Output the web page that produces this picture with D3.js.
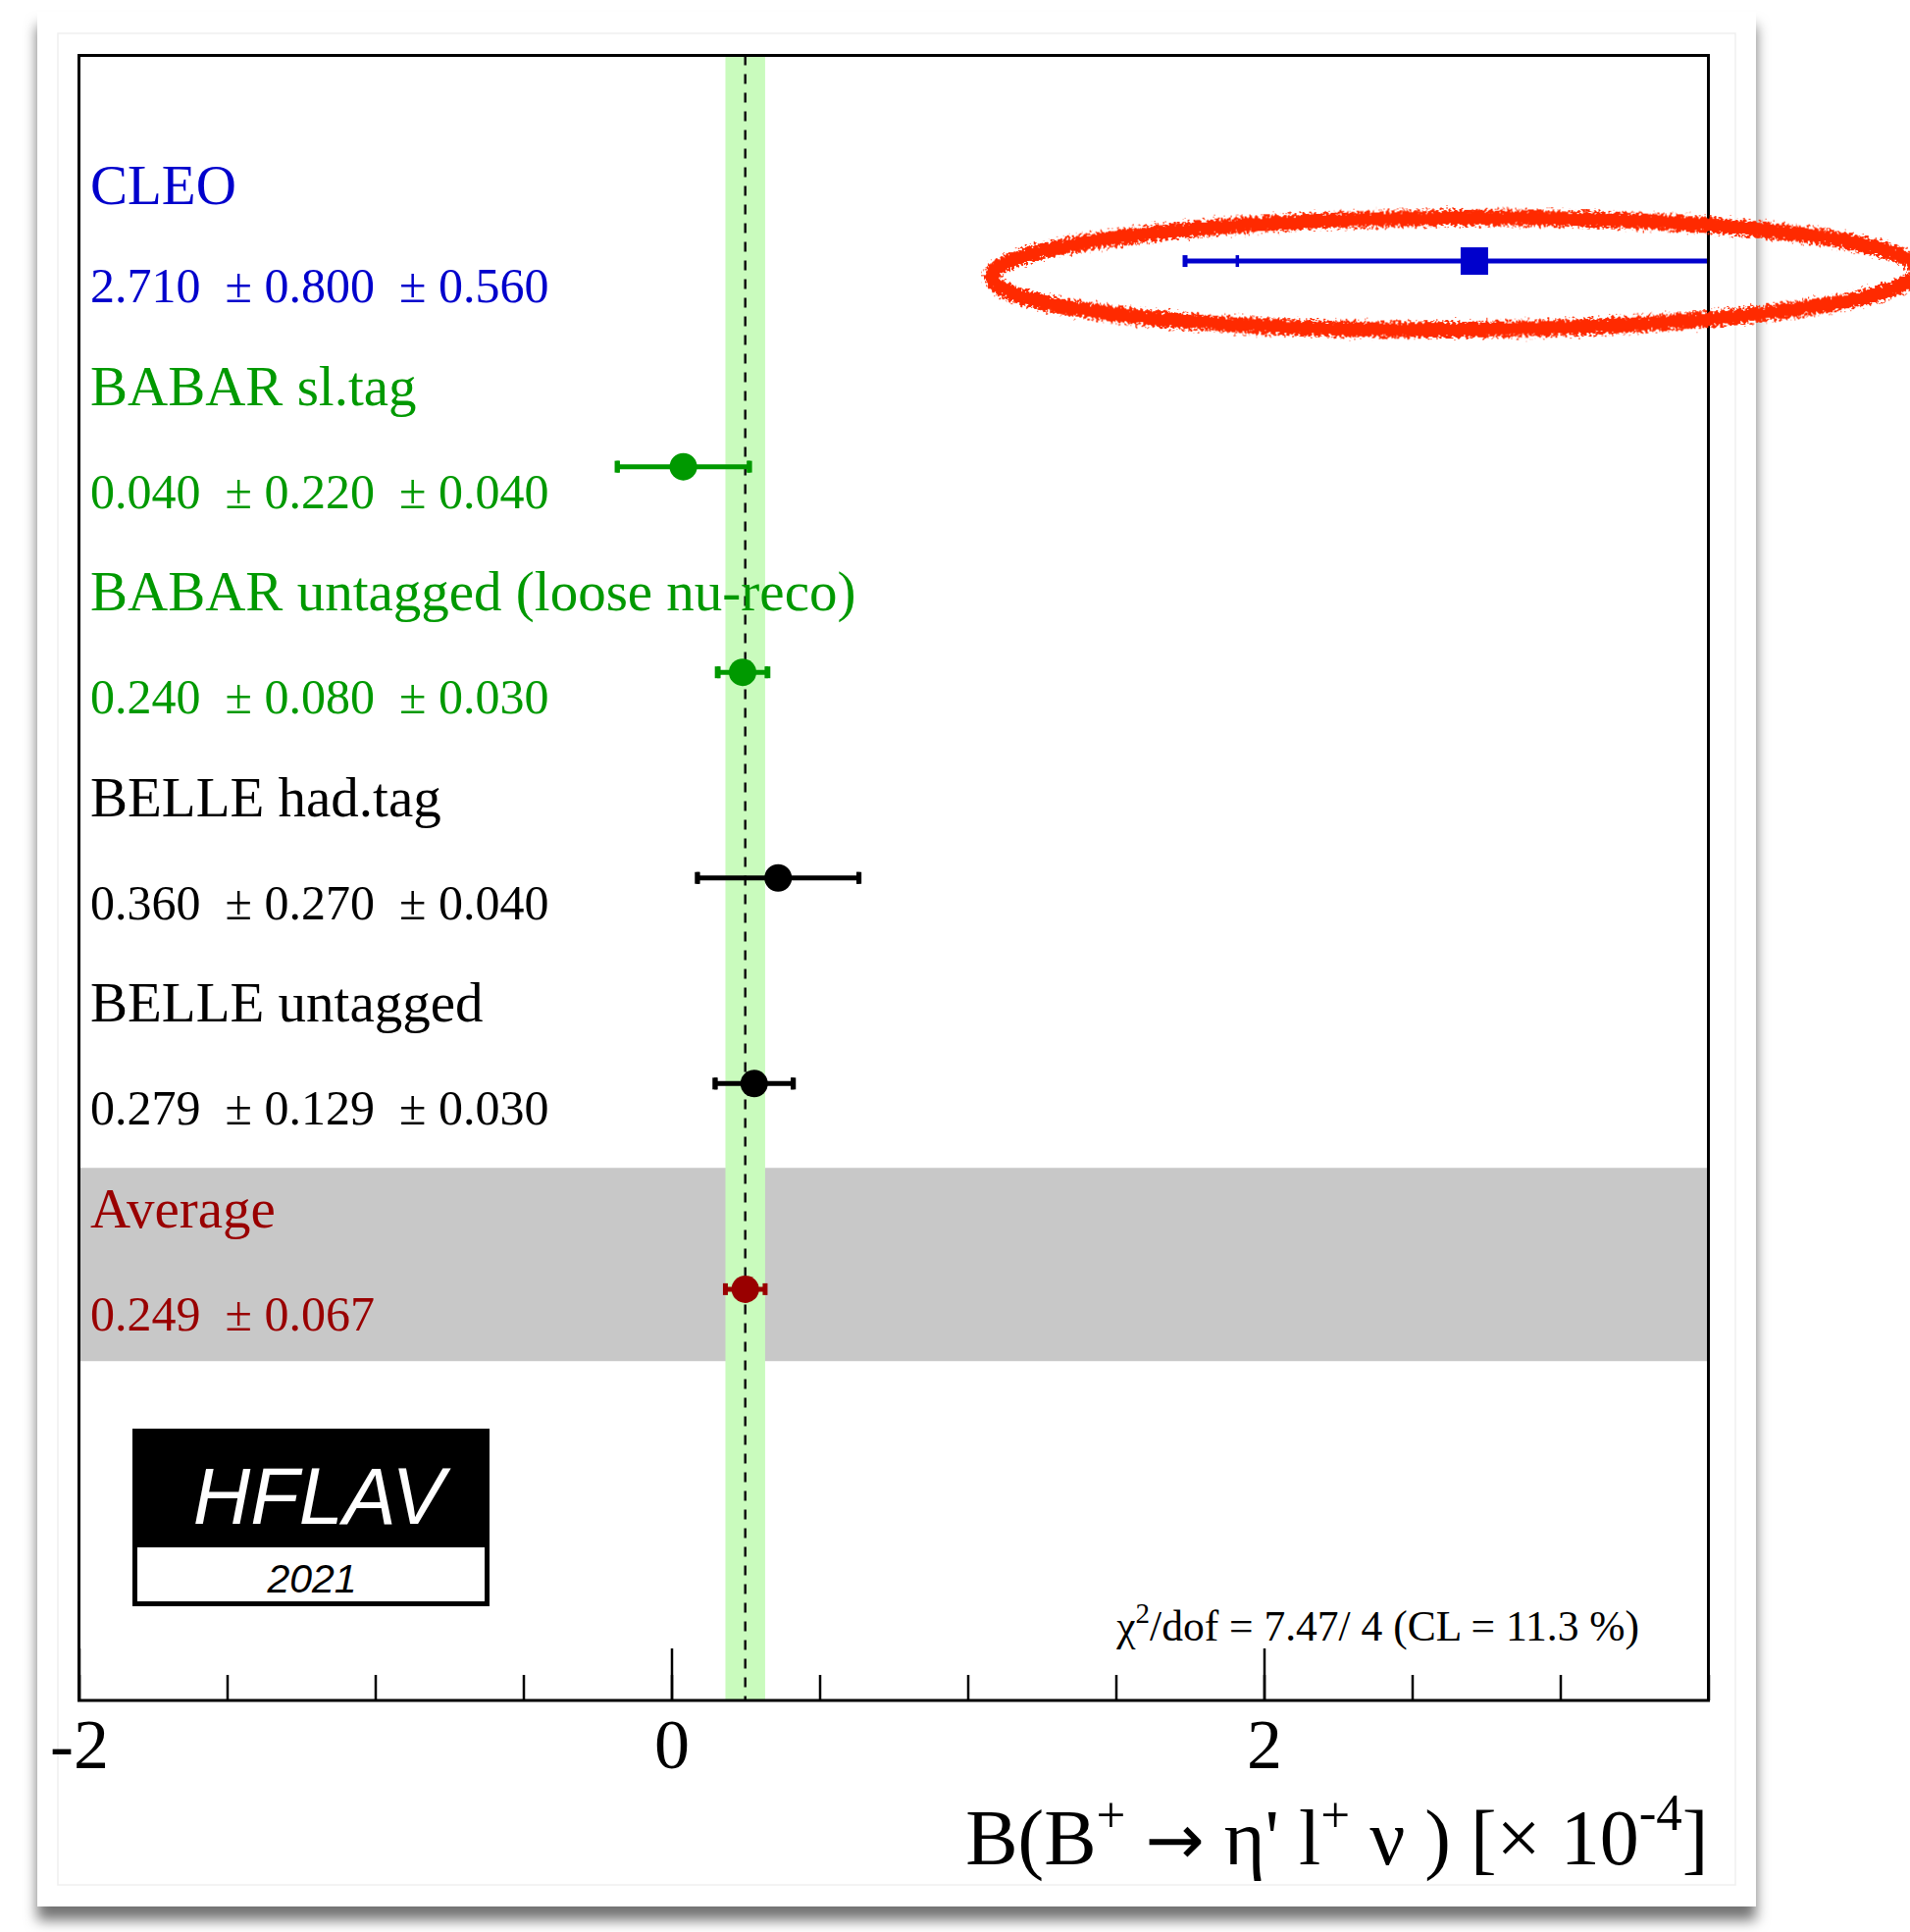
<!DOCTYPE html>
<html>
<head>
<meta charset="utf-8">
<title>HFLAV - B+ to eta' l nu</title>
<script src="https://cdn.jsdelivr.net/npm/d3@7"></script>
<style>
  body { margin: 0; background: #fff; }
  svg text { font-family: "Liberation Serif", "Times New Roman", serif; white-space: pre; }
  svg text.sans { font-family: "Liberation Sans", Arial, sans-serif; font-style: italic; }
</style>
</head>
<body>
<div id="chart"></div>
<script>

// measurements, top to bottom (last one is the average)
var labels = ["CLEO", "BABAR sl.tag", "BABAR untagged (loose nu-reco)", "BELLE had.tag", "BELLE untagged", "Average"];
var values = [2.710, 0.040, 0.240, 0.360, 0.279, 0.249];
var statErr = [0.800, 0.220, 0.080, 0.270, 0.129, 0.067];
var systErr = [0.560, 0.040, 0.030, 0.040, 0.030, 0];
var valueTexts = ["2.710  \u00b1 0.800  \u00b1 0.560", "0.040  \u00b1 0.220  \u00b1 0.040", "0.240  \u00b1 0.080  \u00b1 0.030",
                  "0.360  \u00b1 0.270  \u00b1 0.040", "0.279  \u00b1 0.129  \u00b1 0.030", "0.249  \u00b1 0.067"];
var colors = ["#0000cc", "#009900", "#009900", "#000000", "#000000", "#990000"];
var markers = ["square", "circle", "circle", "circle", "circle", "circle"];
var labelTicks = [-2, 0, 2];
var fitText = "/dof = 7.47/ 4 (CL = 11.3 %)";

var W = 1947, H = 1969;
var frame = { left: 80.5, right: 1741.5, top: 56.5, bottom: 1733 };

var svg = d3.select("#chart").append("svg")
    .attr("width", W)
    .attr("height", H);

var defs = svg.append("defs");

// shadow under the pasted picture
var shadow = defs.append("filter").attr("id", "shadow")
    .attr("x", "-5%").attr("y", "-5%").attr("width", "110%").attr("height", "110%");
shadow.append("feDropShadow")
    .attr("dx", 0).attr("dy", 14).attr("stdDeviation", 7)
    .attr("flood-color", "#000").attr("flood-opacity", 0.55);

// scribbly marker pen
var rough = defs.append("filter").attr("id", "rough")
    .attr("x", "-10%").attr("y", "-60%").attr("width", "120%").attr("height", "220%");
rough.append("feTurbulence")
    .attr("type", "fractalNoise").attr("baseFrequency", "0.35")
    .attr("numOctaves", 3).attr("seed", 4).attr("result", "noise");
rough.append("feDisplacementMap")
    .attr("in", "SourceGraphic").attr("in2", "noise").attr("scale", 13)
    .attr("xChannelSelector", "R").attr("yChannelSelector", "G");

defs.append("clipPath").attr("id", "plotclip")
    .append("rect")
    .attr("x", frame.left).attr("y", frame.top)
    .attr("width", frame.right - frame.left).attr("height", frame.bottom - frame.top);

// card
svg.append("rect")
    .attr("x", 38).attr("y", 12).attr("width", 1752).attr("height", 1931)
    .attr("fill", "#fff")
    .attr("filter", "url(#shadow)");
svg.append("rect")
    .attr("x", 59).attr("y", 34).attr("width", 1710).attr("height", 1887)
    .attr("fill", "none").attr("stroke", "#efefef").attr("stroke-width", 1.5);

// scales
var x = d3.scaleLinear().domain([-2, 3.5]).range([frame.left, frame.right]);
var y = d3.scaleLinear().domain([-1, 7]).range([frame.top, frame.bottom]);

var avgRow = values.length - 1;
var avg = values[avgRow], avgErr = statErr[avgRow];

var plot = svg.append("g").attr("clip-path", "url(#plotclip)");

// average band (grey) and average value band (green)
plot.append("rect")
    .attr("x", frame.left).attr("width", frame.right - frame.left)
    .attr("y", y(avgRow - 0.59)).attr("height", y(avgRow + 0.35) - y(avgRow - 0.59))
    .attr("fill", "#c8c8c8");

plot.append("rect")
    .attr("x", x(avg - avgErr)).attr("width", x(avg + avgErr) - x(avg - avgErr))
    .attr("y", frame.top).attr("height", frame.bottom - frame.top)
    .attr("fill", "#c9fbbd");

plot.append("line")
    .attr("x1", x(avg)).attr("x2", x(avg))
    .attr("y1", frame.top).attr("y2", frame.bottom)
    .attr("stroke", "#111").attr("stroke-width", 2.5)
    .attr("stroke-dasharray", "10,9");

// labels
var rows = d3.range(values.length);

svg.selectAll(".lab")
    .data(rows)
    .enter().append("text")
    .attr("class", "lab")
    .attr("x", frame.left + 11.5)
    .attr("y", function (i) { return y(i) - (i == 0 ? 58 : 63); })
    .attr("font-size", 57)
    .attr("fill", function (i) { return colors[i]; })
    .text(function (i) { return labels[i]; });

svg.selectAll(".val")
    .data(rows)
    .enter().append("text")
    .attr("class", "val")
    .attr("x", frame.left + 11.5)
    .attr("y", function (i) { return y(i) + 42; })
    .attr("font-size", 50)
    .attr("fill", function (i) { return colors[i]; })
    .text(function (i) { return valueTexts[i]; });

// error bars
function totErr(i) { return Math.sqrt(statErr[i] * statErr[i] + systErr[i] * systErr[i]); }

var bars = plot.selectAll(".bar")
    .data(rows)
    .enter().append("g")
    .attr("class", "bar")
    .attr("stroke", function (i) { return colors[i]; })
    .attr("fill", function (i) { return colors[i]; });

bars.append("line")
    .attr("x1", function (i) { return x(values[i] - totErr(i)); })
    .attr("x2", function (i) { return x(values[i] + totErr(i)); })
    .attr("y1", function (i) { return y(i); })
    .attr("y2", function (i) { return y(i); })
    .attr("stroke-width", 5);

[-1, 1].forEach(function (s) {
    bars.append("line")
        .attr("x1", function (i) { return x(values[i] + s * totErr(i)); })
        .attr("x2", function (i) { return x(values[i] + s * totErr(i)); })
        .attr("y1", function (i) { return y(i) - 6; })
        .attr("y2", function (i) { return y(i) + 6; })
        .attr("stroke-width", 5);
    bars.filter(function (i) { return systErr[i] > 0; })
        .append("line")
        .attr("x1", function (i) { return x(values[i] + s * statErr[i]); })
        .attr("x2", function (i) { return x(values[i] + s * statErr[i]); })
        .attr("y1", function (i) { return y(i) - 6; })
        .attr("y2", function (i) { return y(i) + 6; })
        .attr("stroke-width", 3.5);
});

bars.filter(function (i) { return markers[i] == "circle"; })
    .append("circle")
    .attr("cx", function (i) { return x(values[i]); })
    .attr("cy", function (i) { return y(i); })
    .attr("r", 14)
    .attr("stroke", "none");

bars.filter(function (i) { return markers[i] == "square"; })
    .append("rect")
    .attr("x", function (i) { return x(values[i]) - 14; })
    .attr("y", function (i) { return y(i) - 14; })
    .attr("width", 28).attr("height", 28)
    .attr("stroke", "none");

// x axis, ticks pointing up into the frame
var minorAxis = d3.axisBottom(x)
    .tickValues(d3.range(-2, 3.51, 0.5))
    .tickSize(-26)
    .tickFormat("");
svg.append("g")
    .attr("transform", "translate(0," + frame.bottom + ")")
    .call(minorAxis)
    .call(function (g) { g.select(".domain").remove(); })
    .selectAll("line").attr("stroke", "#000").attr("stroke-width", 2.5);

var majorAxis = d3.axisBottom(x)
    .tickValues(labelTicks)
    .tickSize(-53)
    .tickPadding(18)
    .tickFormat(function (d) { return String(d); });
var gx = svg.append("g")
    .attr("transform", "translate(0," + frame.bottom + ")")
    .call(majorAxis)
    .call(function (g) { g.select(".domain").remove(); });
gx.selectAll("line").attr("stroke", "#000").attr("stroke-width", 2.5);
gx.selectAll("text")
    .attr("font-size", 72)
    .attr("fill", "#000");

// frame
svg.append("rect")
    .attr("x", frame.left).attr("y", frame.top)
    .attr("width", frame.right - frame.left).attr("height", frame.bottom - frame.top)
    .attr("fill", "none").attr("stroke", "#000").attr("stroke-width", 3);

// axis title
var title = svg.append("text")
    .attr("x", frame.right).attr("y", 1900)
    .attr("text-anchor", "end")
    .attr("font-size", 80);
title.append("tspan").text("B(B");
title.append("tspan").attr("font-size", 53).attr("dy", -33).text("+");
title.append("tspan").attr("dy", 33).text(" ");
title.append("tspan").style("font-family", "DejaVu Sans").attr("font-size", 72).text("\u2192");
title.append("tspan").text(" \u03b7' l");
title.append("tspan").attr("font-size", 53).attr("dy", -33).text("+");
title.append("tspan").attr("dy", 33).text(" \u03bd ) [\u00d7 10");
title.append("tspan").attr("font-size", 53).attr("dy", -35).text("-4");
title.append("tspan").attr("dy", 35).text("]");

// fit quality
var chi = svg.append("text")
    .attr("x", 1671).attr("y", 1672)
    .attr("text-anchor", "end")
    .attr("font-size", 43.5);
chi.append("tspan").text("\u03c7");
chi.append("tspan").attr("font-size", 29).attr("dy", -18).text("2");
chi.append("tspan").attr("dy", 18).text(fitText);

// HFLAV logo
var logo = svg.append("g");
logo.append("rect")
    .attr("x", 135).attr("y", 1456).attr("width", 364).attr("height", 181)
    .attr("fill", "#000");
logo.append("rect")
    .attr("x", 140).attr("y", 1577).attr("width", 354).attr("height", 55)
    .attr("fill", "#fff");
logo.append("text")
    .attr("class", "sans")
    .attr("x", 325).attr("y", 1553)
    .attr("text-anchor", "middle")
    .attr("font-size", 81)
    .attr("fill", "#fff")
    .text("HFLAV");
logo.append("text")
    .attr("class", "sans")
    .attr("x", 318).attr("y", 1623)
    .attr("text-anchor", "middle")
    .attr("font-size", 41)
    .attr("fill", "#000")
    .text("2021");

// red pen ellipse drawn round the CLEO point
var ecx = x(values[0]) - 20, ecy = y(0) + 13;
svg.append("ellipse")
    .attr("cx", ecx)
    .attr("cy", ecy)
    .attr("rx", 472)
    .attr("ry", 57)
    .attr("fill", "none")
    .attr("stroke", "#ff2a00")
    .attr("stroke-width", 16)
    .attr("transform", "rotate(-0.4," + ecx + "," + ecy + ")")
    .attr("filter", "url(#rough)");

</script>
</body>
</html>
